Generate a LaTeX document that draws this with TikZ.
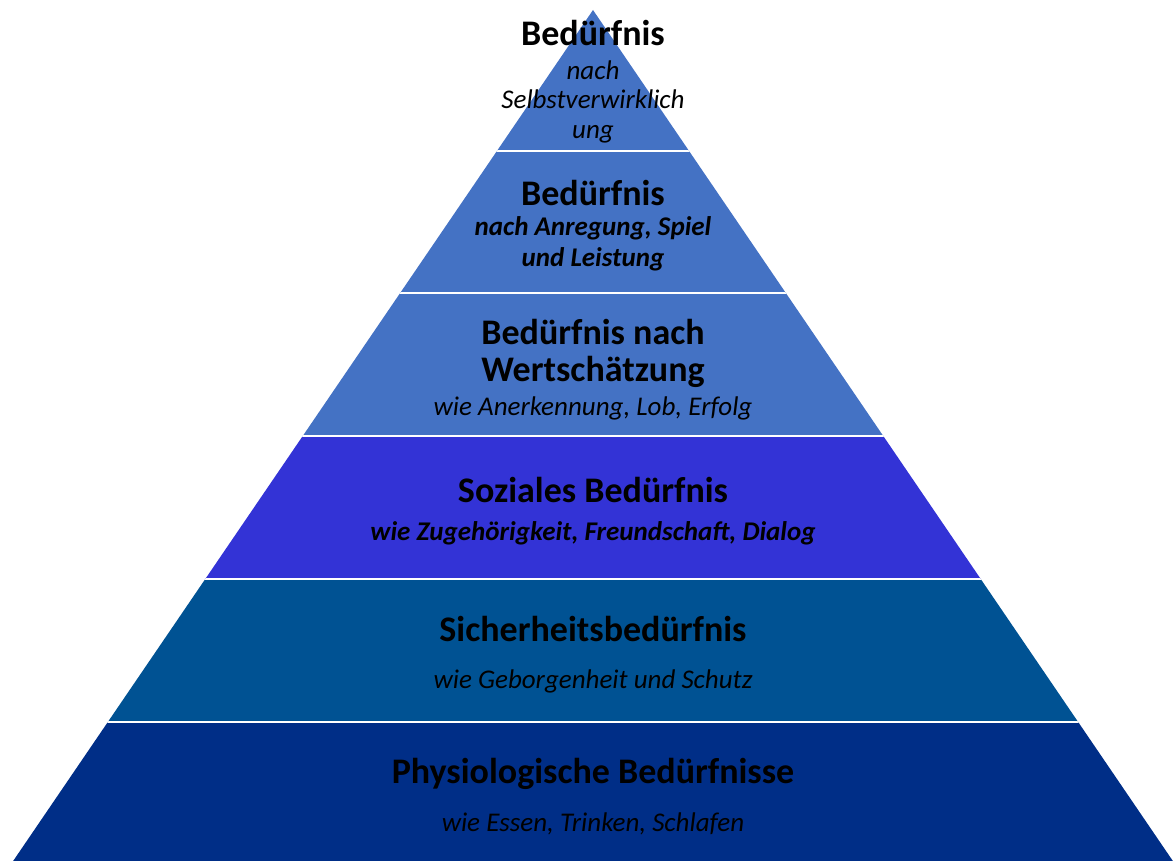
\documentclass[tikz,border=0pt]{standalone}
\usepackage{fontspec}
\setmainfont{Carlito}
\definecolor{tierA}{HTML}{4472C4}
\definecolor{tierB}{HTML}{3333D6}
\definecolor{tierC}{HTML}{005293}
\definecolor{tierD}{HTML}{002E87}
\begin{document}
\begin{tikzpicture}[x=1pt,y=-1pt,
  ttl/.style={font=\bfseries\fontsize{36}{40}\selectfont, anchor=base, inner sep=0pt, text=black},
  sub/.style={font=\itshape\fontsize{27}{30}\selectfont, anchor=base, inner sep=0pt, text=black},
  subb/.style={font=\bfseries\itshape\fontsize{27}{30}\selectfont, anchor=base, inner sep=0pt, text=black},
  sep/.style={white, line width=2.5}]
\useasboundingbox (0,0) rectangle (1175,861);
\begin{scope}
  \clip (593,10) -- (1179,870) -- (7,870) -- cycle;
  \fill[tierA] (0,0) rectangle (1175,437);
  \fill[tierB] (0,437) rectangle (1175,579);
  \fill[tierC] (0,579) rectangle (1175,722);
  \fill[tierD] (0,722) rectangle (1175,870);
  \foreach \yy in {151,293,436,579,722}
    \draw[sep] (0,\yy) -- (1175,\yy);
\end{scope}
% tier 1
\node[ttl] (t1) at (593,46) {Bedürfnis};
\node[sub] (s1a) at (593,80) {nach};
\node[sub] (s1b) at (593,109) {Selbstverwirklich};
\node[sub] (s1c) at (593,139) {ung};
% tier 2
\node[ttl] (t2) at (593,206) {Bedürfnis};
\node[subb] (s2a) at (593,236) {nach Anregung, Spiel};
\node[subb] (s2b) at (593,266) {und Leistung};
% tier 3
\node[ttl] (t3a) at (593,344) {Bedürfnis nach};
\node[ttl] (t3b) at (593,381) {Wertschätzung};
\node[sub] (s3) at (593,415) {wie Anerkennung, Lob, Erfolg};
% tier 4
\node[ttl] (t4) at (593,502) {Soziales Bedürfnis};
\node[subb] (s4) at (593,540) {wie Zugehörigkeit, Freundschaft, Dialog};
% tier 5
\node[ttl] (t5) at (593,641) {Sicherheitsbedürfnis};
\node[sub] (s5) at (593,688) {wie Geborgenheit und Schutz};
% tier 6
\node[ttl] (t6) at (593,783) {Physiologische Bedürfnisse};
\node[sub] (s6) at (593,831) {wie Essen, Trinken, Schlafen};
\end{tikzpicture}
\end{document}
